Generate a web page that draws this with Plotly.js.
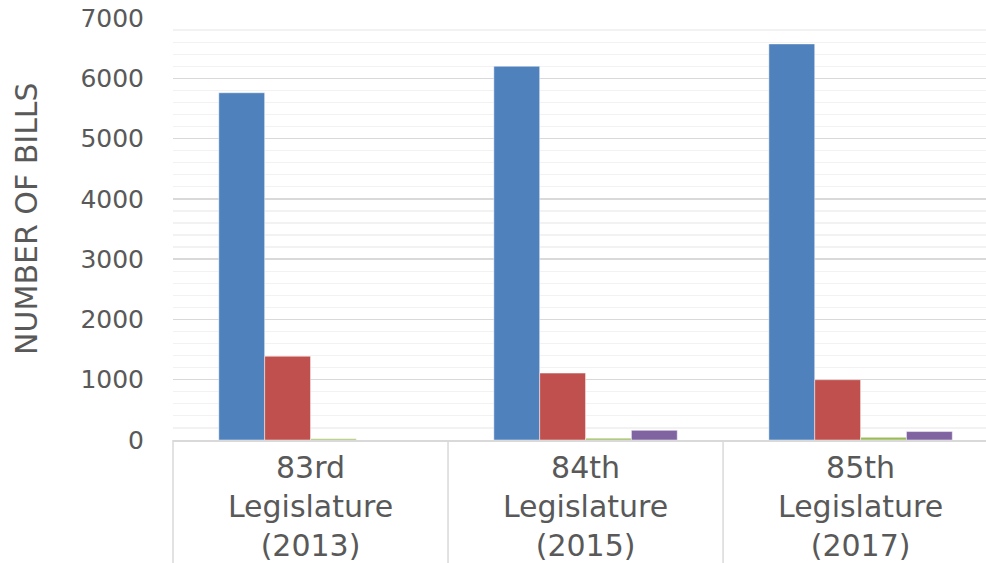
<!DOCTYPE html>
<html>
<head>
<meta charset="utf-8">
<script src="https://cdn.plot.ly/plotly-3.0.1.min.js"></script>
<style>html,body{margin:0;padding:0;background:#fff;overflow:hidden}</style>
</head>
<body>
<div id="chart" style="width:986px;height:563px"></div>
<script>
const categories = ["83rd<br>Legislature<br>(2013)", "84th<br>Legislature<br>(2015)", "85th<br>Legislature<br>(2017)"];
const seriesA = [5760, 6200, 6570];
const seriesB = [1390, 1110, 1000];
const seriesC = [20, 30, 45];
const seriesD = [0, 160, 140];
const colors = ["#4F81BD", "#C0504D", "#9BBB59", "#8064A2"];
const seriesNames = ["Series 1", "Series 2", "Series 3", "Series 4"];
const yTitle = "NUMBER OF BILLS";
const dividers = [0.5, 1.5];

const allSeries = [seriesA, seriesB, seriesC, seriesD];
const traces = allSeries.map((vals, i) => ({
  type: "bar",
  x: [0, 1, 2],
  y: vals,
  name: seriesNames[i],
  marker: {color: colors[i], line: {color: "rgba(255,255,255,0.6)", width: 0.8}},
  hoverinfo: "y"
}));

const shapes = dividers.map(d => ({
  type: "line", xref: "x", yref: "paper", x0: d, x1: d, y0: 0, y1: -0.3,
  line: {color: "#D9D9D9", width: 1.5}
}));
shapes.push({type: "line", xref: "paper", yref: "paper", x0: 0, x1: 0, y0: 0, y1: -0.3,
  line: {color: "#D9D9D9", width: 1.5}});

const layout = {
  width: 986, height: 563,
  margin: {l: 173, r: 0, t: 18, b: 123},
  paper_bgcolor: "#fff", plot_bgcolor: "#fff",
  showlegend: false,
  barmode: "group", bargap: 0.333, bargroupgap: 0,
  font: {family: "DejaVu Sans, Verdana, sans-serif", color: "#595959"},
  xaxis: {
    range: [-0.5, 2.456],
    tickvals: [0, 1, 2], ticktext: categories,
    tickfont: {size: 30, color: "#595959"},
    showgrid: false, zeroline: false,
    showline: true, linecolor: "#D9D9D9", linewidth: 2,
    ticks: "", fixedrange: true
  },
  yaxis: {
    range: [0, 7000], dtick: 1000,
    tickfont: {size: 25, color: "#595959"},
    showgrid: true, gridcolor: "#D9D9D9", gridwidth: 1.5,
    minor: {dtick: 200, showgrid: true, gridcolor: "#F2F2F2", gridwidth: 1.2},
    zeroline: false, showline: false, ticks: "",
    ticklabelstandoff: 28,
    fixedrange: true
  },
  annotations: [{
    text: yTitle, xref: "paper", yref: "paper",
    x: -0.181, y: 0.526, xanchor: "center", yanchor: "middle",
    textangle: -90, showarrow: false,
    font: {size: 30, color: "#595959"}
  }],
  shapes: shapes
};

Plotly.newPlot("chart", traces, layout, {displayModeBar: false, staticPlot: true});
</script>
</body>
</html>
